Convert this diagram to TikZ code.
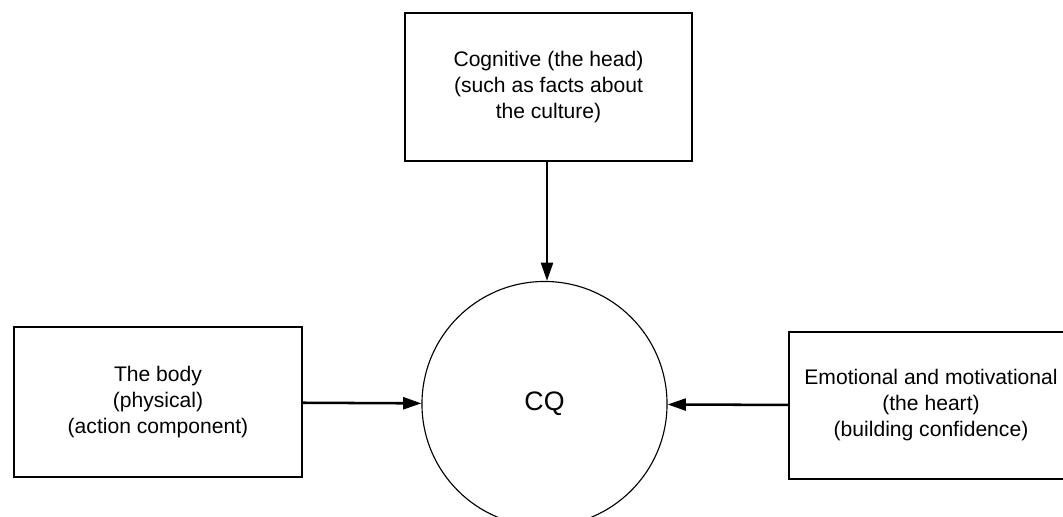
\documentclass[tikz,border=0pt]{standalone}
\usepackage{fontspec}
\setmainfont{Liberation Sans}
\usepackage{tikz}
\usetikzlibrary{arrows.meta}
\usetikzlibrary{positioning}

\begin{document}
\begin{tikzpicture}[
    x=0.025cm, y=-0.025cm,
    font=\fontsize{15}{18.5}\selectfont,
    box/.style={draw, line width=1.3pt, align=center, inner sep=0pt},
    link/.style={-{Triangle[length=13pt, width=8.5pt]}, line width=1.8pt}
  ]

    \clip (0, 0) rectangle (1063, 517);

    \node [box, minimum width=7.175cm, minimum height=3.7cm] (head) at (548.5, 87)
      {Cognitive (the head)\\(such as facts about\\the culture)};
    \node [draw, circle, line width=0.8pt, minimum size=6.125cm,
      font=\fontsize{19}{22}\selectfont] (cq) at (544.5, 404) {CQ};
    \node [box, minimum width=7.2cm, minimum height=3.75cm] (body) at (158, 402)
      {The body\\(physical)\\(action component)};
    \node [box, minimum width=7.1cm, minimum height=3.675cm] (heart) at (931, 405.5)
      {Emotional and motivational\\(the heart)\\(building confidence)};

    \draw [link] (head.south -| 547, 0) -- (547, 0 |- cq.north);
    \draw [link] (body) -- (cq);
    \draw [link] (heart) -- (cq);

  \end{tikzpicture}
\end{document}
